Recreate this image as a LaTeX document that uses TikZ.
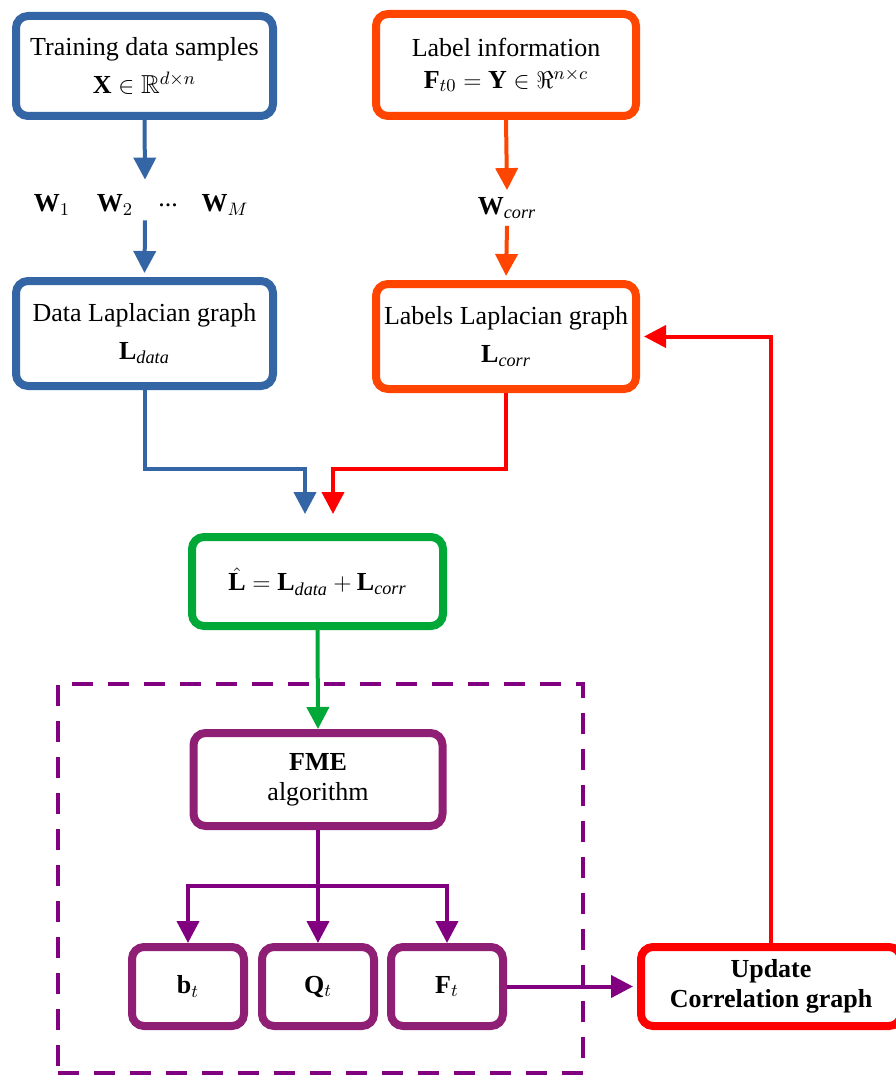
\documentclass[tikz,border=0pt]{standalone}
\usepackage{amsmath,amssymb}
\usepackage{fontspec}
\setmainfont{Liberation Serif}
\usepackage{tikz}
\usetikzlibrary{arrows.meta,positioning,calc}
\definecolor{dblue}{HTML}{3465A4}
\definecolor{orng}{HTML}{FF4500}
\definecolor{pred}{HTML}{FF0000}
\definecolor{lgreen}{HTML}{00A838}
\definecolor{plum}{HTML}{8E1F74}
\definecolor{purp}{HTML}{800080}
\tikzset{
  >={Triangle[length=11pt,width=11pt]},
  box/.style={draw,line width=4pt,fill=white,rounded corners=6pt,align=center,inner sep=0pt,font=\fontsize{13}{19}\selectfont},
  inbox/.style={box,draw=dblue,minimum width=128.5pt,minimum height=50pt},
  labbox/.style={box,draw=orng,minimum width=130pt,minimum height=51pt},
  sumbox/.style={box,draw=lgreen,minimum width=125.5pt,minimum height=44.5pt},
  algbox/.style={box,draw=plum,minimum width=124.5pt,minimum height=46.5pt,font=\fontsize{13}{15}\selectfont},
  outbox/.style={box,draw=plum,minimum width=56pt,minimum height=39.5pt},
  updbox/.style={box,draw=pred,minimum width=130pt,minimum height=39.5pt,font=\fontsize{13}{15}\selectfont},
  wlabel/.style={inner sep=0pt,font=\fontsize{13}{15}\selectfont},
  blueflow/.style={->,line width=2pt,draw=dblue},
  orngflow/.style={->,line width=2pt,draw=orng},
  redflow/.style={->,line width=2pt,draw=pred},
  greenflow/.style={->,line width=2pt,draw=lgreen},
  purpflow/.style={->,line width=2pt,draw=purp},
  frame/.style={draw=purp,line width=2pt,dash pattern=on 10.5pt off 7.5pt,minimum width=262.5pt,minimum height=194.5pt,inner sep=0pt}
}
\begin{document}
\begin{tikzpicture}[x=0.5pt,y=-0.5pt]
  \useasboundingbox (0,0) rectangle (895,1075);
  % inner loop frame
  \node[frame] (loop) at (320.5,878.5) {};
  % top row
  \node[inbox] (train) at (144.5,66) {Training data samples\\ $\mathbf{X}\in\mathbb{R}^{d\times n}$};
  \node[labbox,font=\fontsize{13}{16}\selectfont] (label) at (506,65) {Label information\\ $\mathbf{F}_{t0}=\mathbf{Y}\in\Re^{n\times c}$};
  % similarity matrices
  \node[minimum height=20pt,inner sep=0pt] (wcol) at (145,200) {};
  \foreach \x/\w in {52/{$\mathbf{W}_1$},115/{$\mathbf{W}_2$},168/{...},225/{$\mathbf{W}_M$}}
    \node[wlabel] (w\x) at (\x,205) {\w};
  \node[wlabel,minimum height=17.5pt] (wcorr) at (507,208) {$\mathbf{W}_{\mathit{corr}}$};
  % laplacians
  \node[inbox,minimum height=52.5pt] (data) at (144.5,333.5) {Data Laplacian graph\\ $\mathbf{L}_{\mathit{data}}$};
  \node[labbox,minimum height=52.5pt] (labels) at (506,336.5) {Labels Laplacian graph\\ $\mathbf{L}_{\mathit{corr}}$};
  \node[sumbox] (sum) at (317.5,581.5) {$\hat{\mathbf{L}}=\mathbf{L}_{\mathit{data}}+\mathbf{L}_{\mathit{corr}}$};
  % algorithm and outputs
  \node[algbox] (fme) at (318,779.5) {\textbf{FME}\\ algorithm};
  \foreach \name/\x/\sym in {bt/188/{\mathbf{b}_t},qt/318/{\mathbf{Q}_t},ft/447/{\mathbf{F}_t}}
    \node[outbox] (\name) at (\x,986.5) {$\sym$};
  \node[updbox] (update) at (771,986.5) {\textbf{Update}\\ \textbf{Correlation graph}};
  % connectors
  \coordinate (jblue) at (305,469);
  \coordinate (jred) at (333,469);
  \coordinate (split) at (318,886);
  \draw[blueflow] (train.south) -- (wcol.north);
  \draw[blueflow,shorten >=2pt] (wcol.south) -- (data.north);
  \draw[orngflow] (label.south) -- (wcorr.north);
  \draw[orngflow,shorten >=2pt] (wcorr.south) -- (labels.north);
  \draw[blueflow,shorten >=9.5pt] (data.south) |- (jblue) -- (jblue |- sum.north);
  \draw[redflow,shorten >=9.5pt] (labels.south) |- (jred) -- (jred |- sum.north);
  \draw[greenflow] (sum.south) -- (fme.north);
  \draw[purp,line width=2pt] (fme.south) -- (split);
  \foreach \name in {bt,qt,ft}
    \draw[purpflow] (split) -| (\name.north);
  \draw[purpflow,shorten >=2pt] (ft.east) -- (update.west);
  \draw[redflow,shorten >=2pt] (update.north) |- (labels.east);
\end{tikzpicture}
\end{document}
